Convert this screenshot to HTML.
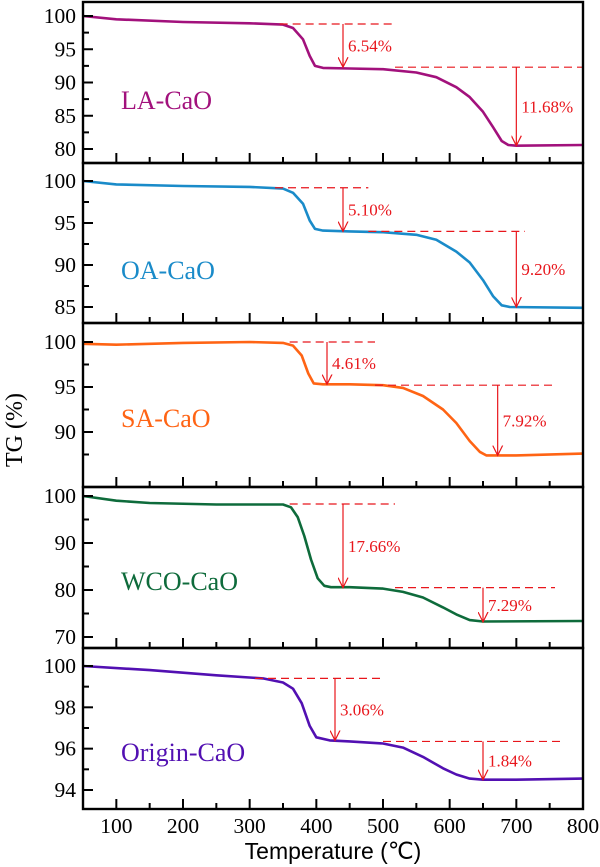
<!DOCTYPE html>
<html><head><meta charset="utf-8"><style>
html,body{margin:0;padding:0;background:#fff;}
svg{display:block;font-family:"Liberation Serif",serif;}
</style></head><body>
<svg id="chart" width="600" height="867" viewBox="0 0 600 867"></svg>
<script>
const xTicks=[100,200,300,400,500,600,700,800];
const panelNames=["LA-CaO","OA-CaO","SA-CaO","WCO-CaO","Origin-CaO"];
const panelColors=["#a2117c","#1a8bc9","#ff6414","#0e6b3b","#5210b2"];
const panelYTicks=[[80,85,90,95,100],[85,90,95,100],[90,95,100],[70,80,90,100],[94,96,98,100]];
const laT=[50,100,200,300,350,365,380,390,398,410,450,500,550,580,610,630,650,665,678,688,700,800];
const laV=[100,99.5,99.1,98.9,98.7,98.2,96.5,94,92.5,92.2,92.1,92.0,91.5,90.8,89.3,87.8,85.6,83.3,81.2,80.6,80.5,80.6];
const oaT=[50,100,200,300,350,365,380,390,398,410,450,500,550,580,610,630,650,665,678,690,800];
const oaV=[100,99.6,99.4,99.3,99.1,98.6,97.3,95.3,94.3,94.1,94.0,93.9,93.6,93.0,91.6,90.3,88.2,86.3,85.2,85.0,84.9];
const saT=[50,100,200,300,350,365,378,388,396,410,450,500,530,560,590,610,630,645,655,700,800];
const saV=[99.8,99.7,99.9,100,99.9,99.6,98.5,96.5,95.4,95.3,95.3,95.2,94.9,94.0,92.5,91.0,89.0,87.8,87.4,87.4,87.6];
const wcoT=[50,100,150,250,350,362,372,382,392,402,412,422,450,500,530,560,590,610,630,650,800];
const wcoV=[100,99,98.5,98.2,98.2,97.6,95.5,91.5,86.5,82.5,80.9,80.6,80.6,80.3,79.6,78.4,76.3,74.8,73.6,73.3,73.4];
const orT=[50,150,250,320,350,365,378,390,400,420,450,500,530,560,590,610,630,650,700,800];
const orV=[100,99.8,99.55,99.4,99.2,98.9,98.2,97.1,96.55,96.4,96.35,96.25,96.05,95.6,95.05,94.75,94.55,94.5,94.5,94.55];
const seriesT=[laT,oaT,saT,wcoT,orT];
const seriesV=[laV,oaV,saV,wcoV,orV];
const annLevels1=[98.8,99.2,100,98.3,99.4];
const annLevels2=[92.3,94.0,95.2,80.5,96.35];
const annEnd1=[92.3,94.0,95.3,80.5,96.4];
const annEnd2=[80.5,85.0,87.4,73.2,94.5];
const annLabels1=["6.54%","5.10%","4.61%","17.66%","3.06%"];
const annLabels2=["11.68%","9.20%","7.92%","7.29%","1.84%"];
const arrowX1=[440,440,416,440,428];
const arrowX2=[700,700,672,650,650];
const dash1=[[345,518],[338,478],[360,488],[360,518],[308,500]];
const dash2=[[518,800],[478,713],[488,758],[518,758],[500,773]];

const panels=[{top:2,bot:163,v0:80,p0:149,s:6.65},{top:163,bot:323,v0:85,p0:307,s:8.4},{top:323,bot:487,v0:90,p0:432,s:9},{top:487,bot:648,v0:70,p0:637,s:4.7},{top:648,bot:809,v0:94,p0:790,s:20.67}];
const labelY=[100,270,418,581,752];
const X0=83,X1=583;
const xs=t=>X0+(t-50)*(X1-X0)/750;
const NS="http://www.w3.org/2000/svg";
const svg=document.getElementById('chart');
function mk(tag,attrs,parent){const e=document.createElementNS(NS,tag);for(const k in attrs)e.setAttribute(k,attrs[k]);(parent||svg).appendChild(e);return e;}
const red="#e8161c";
mk('defs',{}).innerHTML='<marker id="ah" markerWidth="12" markerHeight="12" refX="5" refY="10" orient="0" markerUnits="userSpaceOnUse"><path d="M0,0 L5,10 L10,0" fill="none" stroke="'+red+'" stroke-width="1.2"/></marker>';
panels.forEach((p,i)=>{
  const ys=v=>p.p0-(v-p.v0)*p.s;
  const g=mk('g',{});
  
  
  const pts=seriesT[i].map((t,j)=>xs(t).toFixed(1)+','+ys(seriesV[i][j]).toFixed(1)).join(' ');
  const c=mk('polyline',{points:pts,fill:'none',stroke:panelColors[i],'stroke-width':2.6,'stroke-linejoin':'round'},g);
  
  
  const d1=mk('line',{x1:xs(dash1[i][0]),x2:xs(dash1[i][1]),y1:ys(annLevels1[i]),y2:ys(annLevels1[i]),stroke:red,'stroke-width':1.2,'stroke-dasharray':'8,5'},g);
  
  
  const d2=mk('line',{x1:xs(dash2[i][0]),x2:xs(dash2[i][1]),y1:ys(annLevels2[i]),y2:ys(annLevels2[i]),stroke:red,'stroke-width':1.2,'stroke-dasharray':'8,5'},g);
  
  
  const a1=mk('line',{x1:xs(arrowX1[i]),x2:xs(arrowX1[i]),y1:ys(annLevels1[i]),y2:ys(annEnd1[i]),stroke:red,'stroke-width':1.2,'marker-end':'url(#ah)'},g);
  
  
  const a2=mk('line',{x1:xs(arrowX2[i]),x2:xs(arrowX2[i]),y1:ys(annLevels2[i]),y2:ys(annEnd2[i]),stroke:red,'stroke-width':1.2,'marker-end':'url(#ah)'},g);
  
  
  const t1=mk('text',{x:xs(arrowX1[i])+5,y:(ys(annLevels1[i])+ys(annEnd1[i]))/2+6,fill:red,'font-size':17},g);
  t1.textContent=annLabels1[i];
  
  
  const t2=mk('text',{x:xs(arrowX2[i])+5,y:(ys(annLevels2[i])+ys(annEnd2[i]))/2+6,fill:red,'font-size':17},g);
  t2.textContent=annLabels2[i];
  
  
  const sl=mk('text',{x:121,y:labelY[i]+9,fill:panelColors[i],'font-size':26},g);
  sl.textContent=panelNames[i];
  
  
  const yt=panelYTicks[i];const step=yt[1]-yt[0];
  for(let v=yt[0]-step/2; v<=yt[yt.length-1]+step; v+=step/2){
    const y=ys(v); if(y<p.top+2||y>p.bot-2) continue;
    const major=Math.abs((v-yt[0])/step-Math.round((v-yt[0])/step))<1e-6;
    mk('line',{x1:X0,x2:X0+(major?10:6),y1:y,y2:y,stroke:'#000','stroke-width':2},g);
  }
  yt.forEach(v=>{
    const tl=mk('text',{x:X0-7,y:ys(v)+7,'text-anchor':'end','font-size':21.5},g);
    tl.textContent=v;
    
    
  });
  for(let t=100;t<=800;t+=50){
    const major=t%100===0;
    mk('line',{x1:xs(t),x2:xs(t),y1:p.bot,y2:p.bot-(major?10:6),stroke:'#000','stroke-width':2},g);
  }
  const fr=mk('rect',{x:X0,y:p.top,width:X1-X0,height:p.bot-p.top,fill:'none',stroke:'#000','stroke-width':2.4},g);
  
  
});
xTicks.forEach(t=>{
  const tl=mk('text',{x:xs(t),y:833,'text-anchor':'middle','font-size':21.5});
  tl.textContent=t;
  
  
});
const xt=mk('text',{x:333,y:859,'text-anchor':'middle','font-size':23,'font-family':'"Liberation Sans",sans-serif'});
xt.textContent='Temperature (\u2103)';


const ytt=mk('text',{x:0,y:0,'text-anchor':'middle','font-size':24,transform:'translate(22,430) rotate(-90)'});
ytt.textContent='TG (%)';


</script>
</body></html>
